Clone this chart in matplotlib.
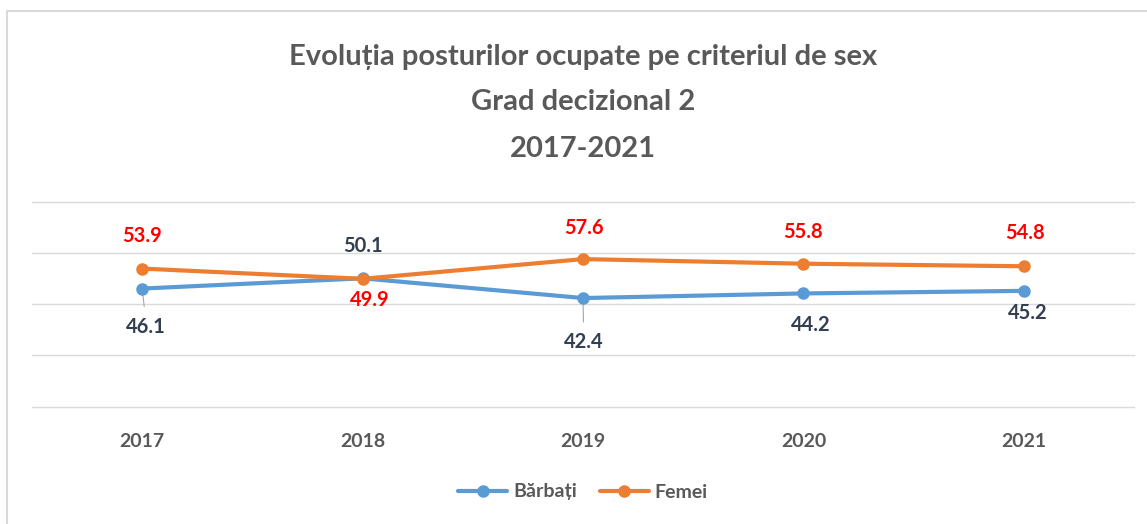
#!/usr/bin/env python3
"""Evolutia posturilor ocupate pe criteriul de sex - Grad decizional 2"""

import matplotlib
matplotlib.use('Agg')
import matplotlib.pyplot as plt
from matplotlib.patches import Rectangle

plt.rcParams['font.family'] = ['Lato', 'DejaVu Sans']

# Data
years = ['2017', '2018', '2019', '2020', '2021']
barbati = [46.1, 50.1, 42.4, 44.2, 45.2]
femei = [53.9, 49.9, 57.6, 55.8, 54.8]

# label offsets in pixels (dx, dy) relative to each point
barbati_offsets = [(4, -38), (0, 32), (1, -44), (7, -32), (4, -22)]
femei_offsets = [(0, 33), (7, -21), (1, 31), (0, 32), (1, 33)]
barbati_leader = [True, False, True, False, False]

blue = '#5B9BD5'
orange = '#ED7D31'
text_gray = '#595959'
label_navy = '#333F50'

fig = plt.figure(figsize=(11.47, 5.24), dpi=100)

# outer chart frame
fig.patches.append(Rectangle((7 / 1147, -0.1), 1.2, 1 - 11 / 524 + 0.1,
                             transform=fig.transFigure, fill=False,
                             edgecolor='#D9D9D9', linewidth=1.5))

ax = fig.add_axes([32 / 1147, 1 - 406.7 / 524, (1134 - 32) / 1147, 205 / 524])

x = list(range(len(years)))
ax.plot(x, barbati, color=blue, linewidth=3, marker='o', markersize=8,
        label='Bărbați', solid_capstyle='round', zorder=3)
ax.plot(x, femei, color=orange, linewidth=3, marker='o', markersize=8,
        label='Femei', solid_capstyle='round', zorder=3)

ax.set_xlim(-0.5, len(years) - 0.5)
ax.set_ylim(0, 80)
ax.set_yticks([0, 20, 40, 60, 80])
ax.set_yticklabels([])
ax.tick_params(axis='y', length=0)
ax.grid(axis='y', color='#D9D9D9', linewidth=1)
for gl in ax.get_ygridlines():
    gl.set_clip_on(False)
ax.set_axisbelow(True)
ax.set_xticks(x)
ax.set_xticklabels(years, fontsize=14, fontweight='bold', color=text_gray)
ax.tick_params(axis='x', length=0, pad=19)
for s in ax.spines.values():
    s.set_visible(False)

# data labels
for i, v in enumerate(barbati):
    dx, dy = barbati_offsets[i]
    ax.annotate(f'{v}', (i, v), xytext=(dx, dy), textcoords='offset pixels',
                ha='center', va='center', fontsize=14.5, fontweight='bold',
                color=label_navy, zorder=4)
    if barbati_leader[i]:
        ax.annotate('', (i, v), xytext=(dx * 0.5, dy + 20), textcoords='offset pixels',
                    arrowprops=dict(arrowstyle='-', color='#A6A6A6', linewidth=0.8,
                                    shrinkA=0, shrinkB=4), zorder=2)

for i, v in enumerate(femei):
    dx, dy = femei_offsets[i]
    ax.annotate(f'{v}', (i, v), xytext=(dx, dy), textcoords='offset pixels',
                ha='center', va='center', fontsize=14.5, fontweight='bold',
                color='#FF0000', zorder=4)

# title
title_lines = ['Evoluția posturilor ocupate pe criteriul de sex',
               'Grad decizional 2', '2017-2021']
for line, ypix in zip(title_lines, [57, 102, 149]):
    fig.text(583 / 1147, 1 - ypix / 524, line, ha='center', va='center',
             fontsize=21, fontweight='bold', color=text_gray)

leg = fig.legend(loc='center', bbox_to_anchor=(583 / 1147, 1 - 492 / 524), ncol=2,
                 frameon=False, fontsize=14, handlelength=2.5, columnspacing=1.2,
                 handletextpad=0.3)
for t in leg.get_texts():
    t.set_color(text_gray)
    t.set_fontweight('bold')

plt.savefig('out.png', dpi=100)
